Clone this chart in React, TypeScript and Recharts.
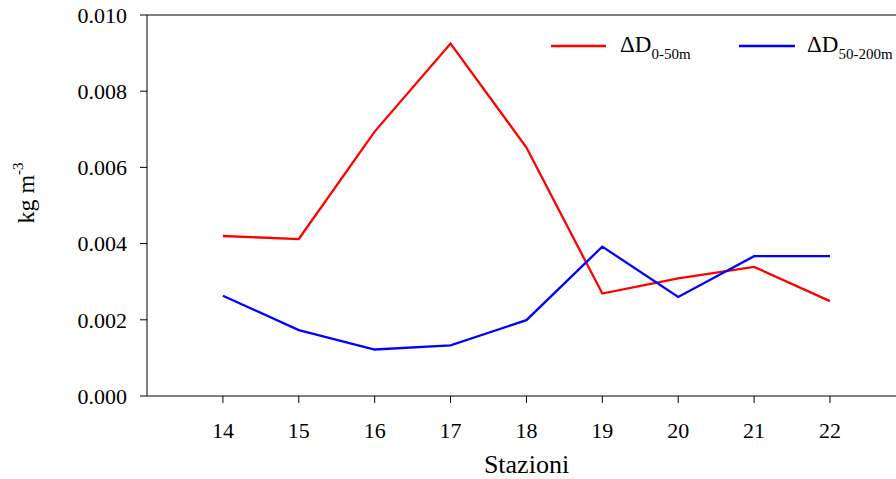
import React from 'react';
import { LineChart, Line, XAxis, YAxis, ReferenceLine, Legend, Label } from 'recharts';

const stations = [14, 15, 16, 17, 18, 19, 20, 21, 22];
const delta0to50 = [0.0042, 0.00412, 0.00694, 0.00925, 0.00652, 0.00269, 0.00309, 0.00339, 0.00249];
const delta50to200 = [0.00263, 0.00173, 0.00122, 0.00133, 0.00199, 0.00392, 0.0026, 0.00367, 0.00367];
const yTicks = [0, 0.002, 0.004, 0.006, 0.008, 0.01];
const seriesNames = ['0-50m', '50-200m'];

const data = stations.map((s, i) => ({ station: s, a: delta0to50[i], b: delta50to200[i] }));

const FONT = "'Liberation Serif', 'Times New Roman', serif";
const fontStyle = { fontFamily: FONT };

const legendPos = [
  { x1: 551, x2: 606, tx: 620 },
  { x1: 739, x2: 795, tx: 807 },
];

const LegendContent = (props: any) => {
  const payload = props.payload || [];
  return (
    <svg width={896} height={80} style={{ position: 'absolute', left: 0, top: 0, overflow: 'visible' }}>
      {payload.map((p: any, i: number) => {
        const pos = legendPos[i];
        if (!pos) return null;
        return (
          <g key={i}>
            <line x1={pos.x1} x2={pos.x2} y1={46} y2={46} stroke={p.color} strokeWidth={2.3} />
            <text x={pos.tx} y={52} style={fontStyle} fontSize={23} fill="#000">
              ΔD
              <tspan fontSize={15} dy={7}>{seriesNames[i]}</tspan>
            </text>
          </g>
        );
      })}
    </svg>
  );
};

const YLabel = () => (
  <text x={34} y={193} transform="rotate(-90, 34, 193)" textAnchor="middle" style={fontStyle} fontSize={24} fill="#000">
    kg m<tspan fontSize={15} dy={-11}>-3</tspan>
  </text>
);

const XLabel = (props: any) => {
  const vb = props.viewBox || { x: 0, width: 0 };
  return (
    <text x={vb.x + vb.width / 2 + 5} y={473} textAnchor="middle" style={fontStyle} fontSize={26} fill="#000">
      Stazioni
    </text>
  );
};

export default function App() {
  return (
    <div style={{ position: 'absolute', left: 0, top: 0, width: 896, height: 479, background: '#fff' }}>
      <LineChart width={896} height={479} data={data} margin={{ top: 15, right: 0, bottom: 0, left: 0 }}>
        <XAxis
          dataKey="station"
          type="number"
          domain={[13, 22.87]}
          ticks={stations}
          allowDataOverflow
          height={83}
          tickSize={7}
          tickMargin={19}
          stroke="#000"
          tick={{ fontSize: 22, fill: '#000', style: fontStyle }}
        >
          <Label content={<XLabel />} />
        </XAxis>
        <YAxis
          type="number"
          domain={[0, 0.01]}
          ticks={yTicks}
          width={147}
          tickSize={7}
          tickMargin={13}
          stroke="#000"
          tickFormatter={(v: number) => v.toFixed(3)}
          tick={{ fontSize: 22, fill: '#000', style: fontStyle }}
        >
          <Label content={<YLabel />} />
        </YAxis>
        <ReferenceLine y={0.01} stroke="#000" />
        <Legend
          content={<LegendContent />}
          verticalAlign="top"
          wrapperStyle={{ position: 'absolute', left: 0, top: 0, width: 0, height: 0, overflow: 'visible' }}
        />
        <Line dataKey="a" name="0-50m" stroke="#ff0000" strokeWidth={2.3} dot={false} isAnimationActive={false} />
        <Line dataKey="b" name="50-200m" stroke="#0000ff" strokeWidth={2.3} dot={false} isAnimationActive={false} />
      </LineChart>
    </div>
  );
}
